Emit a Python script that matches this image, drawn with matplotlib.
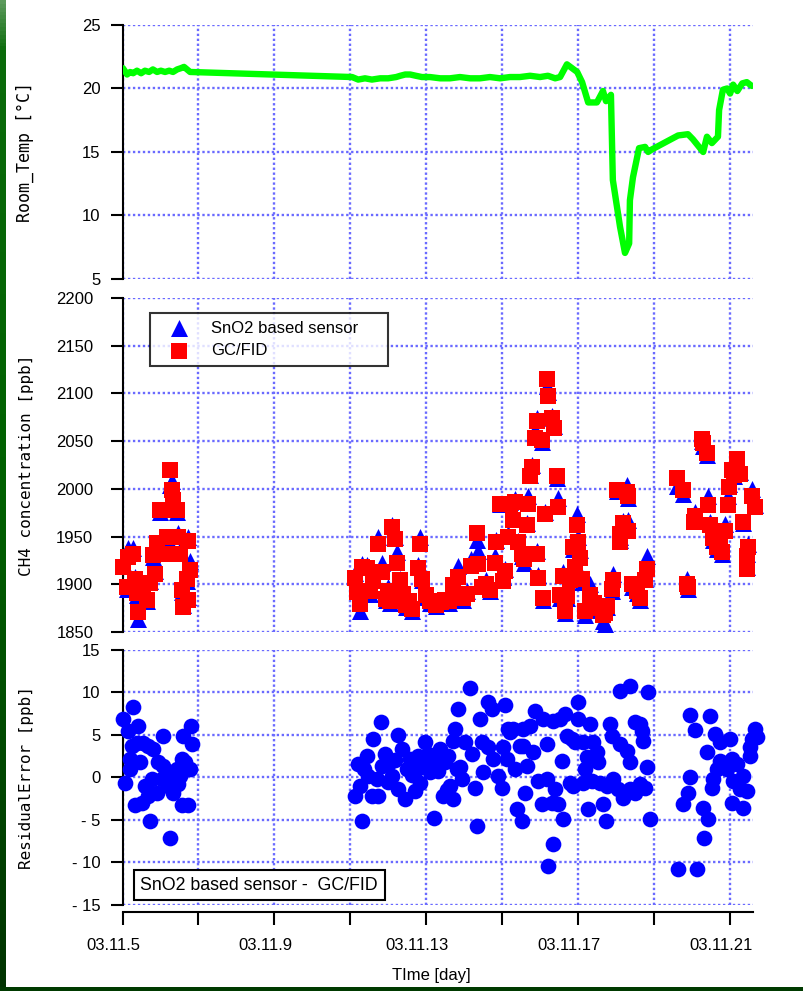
import numpy as np
import matplotlib
matplotlib.use("Agg")
import matplotlib.pyplot as plt
from matplotlib import font_manager
from matplotlib.colors import LinearSegmentedColormap
from matplotlib.patches import Rectangle
from matplotlib.transforms import ScaledTranslation

# room temperature log (day of Nov 2003, deg C)
temp_day = [5.01, 5.12, 5.20, 5.28, 5.38, 5.49, 5.59, 5.70, 5.80, 5.91, 6.01, 6.12, 6.23, 6.33,
            6.44, 6.54, 6.62, 6.70, 6.78,
            11.05, 11.21, 11.39, 11.57, 11.79, 12.00, 12.21, 12.32, 12.45, 12.58, 12.73, 12.89,
            13.10, 13.37, 13.63, 13.89, 14.16, 14.42, 14.68, 14.95, 15.21, 15.47, 15.74, 16.00,
            16.21, 16.40, 16.53, 16.71, 16.98, 17.11, 17.27, 17.50, 17.66, 17.74, 17.87, 17.92,
            18.11, 18.24, 18.35, 18.37, 18.45, 18.61, 18.77, 18.85, 18.95, 19.64, 19.90, 20.03,
            20.30, 20.40, 20.53, 20.69, 20.72, 20.82, 20.93, 21.01, 21.09, 21.20, 21.33, 21.45, 21.58]
temp_c = [21.6, 21.1, 21.3, 21.2, 21.4, 21.2, 21.4, 21.3, 21.5, 21.3, 21.4, 21.3, 21.4, 21.3,
          21.5, 21.6, 21.7, 21.5, 21.3,
          20.9, 20.7, 20.8, 20.7, 20.8, 20.8, 20.9, 21.0, 21.1, 21.1, 21.0, 20.9,
          20.9, 20.8, 20.8, 20.9, 20.8, 20.8, 20.9, 20.8, 20.9, 20.9, 21.0, 20.9,
          21.0, 20.8, 20.9, 21.9, 21.3, 20.5, 18.9, 18.9, 19.8, 19.0, 19.5, 12.8,
          9.1, 7.05, 7.8, 11.2, 13.0, 15.3, 15.4, 15.0, 15.2, 16.3, 16.4, 16.0,
          15.0, 16.2, 15.7, 16.2, 18.3, 19.9, 20.0, 19.6, 20.3, 19.8, 20.4, 20.5, 20.2]

# CH4 samples: GC/FID reference and SnO2 sensor reading (ppb)
ch4_day = [5.01, 5.12, 5.14, 5.28, 5.33, 5.38, 5.41, 5.54, 5.65, 5.72, 5.80, 5.86, 5.91, 5.99,
           6.12, 6.17, 6.20, 6.25, 6.30, 6.33, 6.44, 6.46, 6.52, 6.57, 6.59, 6.70, 6.73, 6.73, 6.78,
           11.13, 11.18, 11.26, 11.31, 11.45, 11.52, 11.60, 11.73, 11.84, 11.94, 12.00, 12.05,
           12.10, 12.18, 12.23, 12.31, 12.39, 12.47, 12.55, 12.63, 12.79, 12.84, 12.89, 13.00,
           13.10, 13.26, 13.39, 13.50, 13.60, 13.71, 13.84, 13.97, 14.08, 14.18, 14.34, 14.37,
           14.47, 14.58, 14.68, 14.81, 14.84, 14.95, 15.02, 15.08, 15.16, 15.21, 15.29, 15.34,
           15.42, 15.53, 15.58, 15.66, 15.69, 15.74, 15.79, 15.87, 15.92, 15.92, 15.95, 16.05,
           16.08, 16.13, 16.19, 16.21, 16.32, 16.37, 16.45, 16.48, 16.53, 16.61, 16.66, 16.71,
           16.79, 16.87, 16.92, 16.98, 17.00, 17.06, 17.11, 17.19, 17.32, 17.42, 17.50, 17.66,
           17.71, 17.77, 17.90, 17.92, 18.03, 18.11, 18.11, 18.19, 18.29, 18.32, 18.32, 18.43,
           18.56, 18.64, 18.77, 18.82,
           19.61, 19.77, 19.88, 19.90, 20.06, 20.09, 20.27, 20.30, 20.40, 20.43, 20.48, 20.56,
           20.67, 20.74, 20.80, 20.88, 20.96, 20.98, 21.06, 21.11, 21.19, 21.27, 21.35, 21.46,
           21.46, 21.48, 21.59, 21.67]
gc_ppb = [1918, 1897, 1929, 1932, 1905, 1891, 1871, 1891, 1884, 1901, 1931, 1911, 1943, 1978,
          1932, 1950, 1978, 2020, 1999, 1988, 1978, 1950, 1932, 1894, 1876, 1905, 1945, 1884, 1915,
          1907, 1892, 1879, 1918, 1917, 1893, 1903, 1942, 1913, 1885, 1893, 1882,
          1960, 1947, 1922, 1904, 1890, 1878, 1882, 1874, 1917, 1942, 1905, 1889,
          1882, 1878, 1881, 1883, 1882, 1899, 1908, 1886, 1890, 1919, 1954, 1921,
          1897, 1900, 1894, 1922, 1944, 1984, 1903, 1914, 1950, 1984, 1967, 1986,
          1944, 1932, 1926, 1962, 1984, 2013, 2023, 2053, 2071, 1932, 1907, 2051,
          1886, 1974, 2115, 2097, 2074, 2064, 2013, 1981, 1889, 1909, 1872, 1888,
          1904, 1939, 1918, 1962, 1944, 1928, 1905, 1872, 1889, 1880, 1875, 1868,
          1870, 1877, 1895, 1904, 1999, 1953, 1944, 1964, 1997, 1992, 1956, 1900,
          1893, 1886, 1904, 1916,
          2011, 1999, 1900, 1897, 1965, 1972, 2052, 2048, 2038, 1983, 1962, 1948,
          1939, 1945, 1934, 1956, 1983, 2002, 2020, 2015, 2031, 2016, 1965, 1930,
          1916, 1939, 1992, 1981]
sensor_ppb = [1922, 1895, 1938, 1938, 1908, 1889, 1864, 1893, 1882, 1903, 1929, 1914, 1941, 1976,
              1935, 1948, 1980, 2004, 2008, 1990, 1976, 1954, 1936, 1892, 1878, 1903, 1950, 1887, 1924,
              1912, 1897, 1872, 1921, 1920, 1890, 1906, 1950, 1922, 1884, 1897, 1880,
              1962, 1950, 1934, 1906, 1893, 1876, 1884, 1872, 1920, 1950, 1904, 1887,
              1880, 1877, 1880, 1882, 1880, 1901, 1919, 1884, 1893, 1926, 1946, 1935,
              1899, 1904, 1893, 1930, 1946, 1984, 1908, 1916, 1953, 1986, 1970, 1989,
              1945, 1930, 1922, 1964, 1993, 2015, 2025, 2062, 2074, 1935, 1910, 2049,
              1884, 1976, 2108, 2102, 2076, 2066, 2011, 1990, 1886, 1913, 1870, 1886,
              1906, 1937, 1922, 1974, 1950, 1936, 1902, 1868, 1900, 1878, 1873, 1862,
              1858, 1876, 1893, 1911, 1998, 1950, 1946, 1966, 2004, 1990, 1967, 1897,
              1891, 1884, 1906, 1930,
              2003, 1995, 1905, 1895, 1968, 1976, 2050, 2045, 2035, 1992, 1965, 1946,
              1937, 1948, 1932, 1963, 1992, 2005, 2022, 2013, 2030, 2018, 1964, 1932,
              1918, 1942, 2000, 1983]

# residual error, SnO2 sensor - GC/FID (ppb)
res_day = [5.01, 5.07, 5.14, 5.20, 5.20, 5.25, 5.28, 5.33, 5.38, 5.41, 5.46, 5.51, 5.54, 5.59,
           5.67, 5.67, 5.72, 5.78, 5.80, 5.91, 5.94, 6.04, 6.07, 6.07, 6.20, 6.25, 6.25, 6.33,
           6.38, 6.44, 6.46, 6.52, 6.57, 6.57, 6.59, 6.65, 6.73, 6.78, 6.81, 6.83,
           11.13, 11.21, 11.26, 11.31, 11.37, 11.45, 11.47, 11.58, 11.60, 11.71, 11.73, 11.81,
           11.84, 11.92, 12.00, 12.05, 12.10, 12.18, 12.26, 12.26, 12.37, 12.45, 12.50, 12.58,
           12.63, 12.71, 12.76, 12.79, 12.84, 12.92, 12.97, 13.05, 13.10, 13.21, 13.23, 13.31,
           13.37, 13.44, 13.50, 13.55, 13.58, 13.63, 13.71, 13.71, 13.76, 13.82, 13.84, 13.89,
           13.95, 14.03, 14.16, 14.21, 14.29, 14.34, 14.42, 14.47, 14.50, 14.63, 14.63, 14.73,
           14.76, 14.89, 15.00, 15.02, 15.08, 15.13, 15.16, 15.21, 15.29, 15.34, 15.40, 15.47,
           15.53, 15.55, 15.55, 15.61, 15.66, 15.74, 15.82, 15.87, 15.95, 16.05, 16.08, 16.19,
           16.19, 16.21, 16.32, 16.34, 16.34, 16.40, 16.48, 16.53, 16.58, 16.61, 16.66, 16.71,
           16.79, 16.84, 16.87, 16.92, 17.00, 17.00, 17.13, 17.13, 17.19, 17.24, 17.27, 17.32,
           17.37, 17.40, 17.50, 17.53, 17.58, 17.66, 17.74, 17.77, 17.85, 17.90, 17.92, 18.06,
           18.11, 18.11, 18.19, 18.29, 18.37, 18.37, 18.37, 18.50, 18.50, 18.64, 18.64, 18.69,
           18.72, 18.77, 18.82, 18.85, 18.90,
           19.64, 19.77, 19.90, 19.95, 19.95, 20.09, 20.14, 20.30, 20.32, 20.40, 20.43, 20.48,
           20.53, 20.56, 20.61, 20.67, 20.74, 20.74, 20.82, 20.93, 21.01, 21.06, 21.06, 21.09,
           21.19, 21.22, 21.27, 21.35, 21.35, 21.46, 21.54, 21.54, 21.59, 21.67, 21.72]
res_ppb = [6.9, -0.6, 5.5, 2.2, 1.0, 3.7, 8.3, -3.2, 4.1, 6.1, 1.8, -3.0, 4.1, -1.0,
           3.7, -2.2, -5.1, -0.2, 3.3, -1.8, 1.8, -0.2, 1.4, 4.9, -1.0, 0.6, -7.1, -1.8,
           -0.2, 1.0, -0.8, 0.2, 2.2, -3.2, 4.9, 1.8, -3.2, 1.0, 6.1, 3.9,
           -2.17, 1.58, -0.99, -5.12, 1.0, 2.56, 0.2, -2.17, 4.53, -0.2, -2.17, 6.58,
           1.38, 2.76, -0.5, 1.77, 0.2, 2.0, 5.0, -1.38, 3.35, -2.56, 0.99, 2.17,
           0.3, -1.58, 0.99, 2.56, -0.6, 1.77, 4.14, 2.8, 0.59, -4.73, 2.17, 0.8,
           3.35, -2.17, 1.77, -1.5, 2.56, -0.99, -2.56, 4.33, 5.71, 0.99, 8.08, 1.2,
           -0.2, 4.14, 10.5, 2.76, -1.18, -5.71, 6.9, 4.14, 0.59, 8.87, 3.55, 8.08,
           2.17, 0.2, -1.18, 3.55, 8.47, 2.17, 5.71, 5.32, 5.71, 0.99, -3.74, 3.74,
           -5.12, 5.71, 3.74, -1.77, 1.38, 6.1, 2.96, 7.88, -0.39, -3.15, 6.9, 3.94,
           -0.2, -10.4, -2.96, -7.88, 6.7, -1.38, -3.15, 6.9, 1.97, -4.93, 7.49, 4.93,
           -0.59, 4.53, -0.99, 4.14, 8.87, 6.9, 4.14, -0.59, 0.99, 2.36, -3.74, 6.3,
           -0.39, 4.14, 2.96, 1.77, -0.59, -3.15, -5.12, -0.99, 6.3, 4.93, -0.2, -1.38,
           3.94, 10.2, -2.36, 3.15, 1.77, -1.38, 10.8, 6.5, -1.77, 6.3, -0.79, 5.5,
           4.33, -1.18, 1.18, 10.05, -4.93,
           -10.8, -3.15, -1.77, 0.0, 7.37, 5.6, -10.8, -3.55, -7.1, 2.96, -4.93, 7.2,
           -1.18, -0.2, 5.12, 0.99, 4.14, 1.97, 1.58, 0.99, 4.53, 2.17, -2.96, -0.39,
           1.58, -0.59, -1.38, 0.2, -3.55, -1.58, 2.56, 3.55, 4.53, 5.71, 4.73]

day_ticks = [5, 7, 9, 11, 13, 15, 17, 19, 21]
day_labels = ["03.11.5", "", "03.11.9", "", "03.11.13", "", "03.11.17", "", "03.11.21"]
temp_ticks = [5, 10, 15, 20, 25]
ch4_ticks = [1850, 1900, 1950, 2000, 2050, 2100, 2150, 2200]
res_ticks = [-15, -10, -5, 0, 5, 10, 15]
res_labels = ["- 15", "- 10", "- 5", "0", "5", "10", "15"]

installed = {f.name for f in font_manager.fontManager.ttflist}
sans = "Liberation Sans"
narrow = "Liberation Sans Narrow" if "Liberation Sans Narrow" in installed else sans
mono = "DejaVu Sans Mono"
plt.rcParams["font.family"] = sans

grid_kw = dict(color="#6a6aff", linestyle=(0, (1, 1.1)), linewidth=1.7)
x_max = 21.614

fig = plt.figure(figsize=(8.04, 9.91), dpi=100)
fig.patch.set_facecolor("white")

left, width = 0.1524, 0.7842
ax1 = fig.add_axes([left, 0.7185, width, 0.2563])
ax2 = fig.add_axes([left, 0.3623, width, 0.3370])
ax3 = fig.add_axes([left, 0.0868, width, 0.2573])

for ax in (ax1, ax2, ax3):
    ax.set_xlim(5, x_max)
    ax.set_xticks(day_ticks)
    for s in ("top", "right", "bottom"):
        ax.spines[s].set_visible(False)
    ax.spines["left"].set_linewidth(1.5)
    ax.grid(True, **grid_kw)
    ax.set_axisbelow(True)
    ax.tick_params(axis="y", direction="out", length=9, width=1.5, labelsize=12, pad=7)
    ax.tick_params(axis="x", length=0, labelbottom=False)

# room temperature
ax1.plot(temp_day, temp_c, color="#00ff00", lw=4.6, solid_joinstyle="round",
         solid_capstyle="round", zorder=3)
ax1.set_ylim(5, 25)
ax1.set_yticks(temp_ticks)
ax1.set_ylabel("Room_Temp [°C]", family=mono, fontsize=12)

# CH4 concentration
ax2.scatter(ch4_day, sensor_ppb, marker="^", s=150, color="#0000ff", linewidths=0,
            label="SnO2 based sensor", zorder=3, clip_on=False)
ax2.scatter(ch4_day, gc_ppb, marker="s", s=125, color="#ff0000", linewidths=0,
            label="GC/FID", zorder=4, clip_on=False)
ax2.set_ylim(1850, 2200)
ax2.set_yticks(ch4_ticks)
ax2.tick_params(axis="y", pad=12)
ax2.set_ylabel("CH4 concentration [ppb]", family=mono, fontsize=11.5)
leg = ax2.legend(loc="upper left", bbox_to_anchor=(0.0436, 0.775, 0.3775, 0.18),
                 mode="expand", fontsize=12, frameon=True, fancybox=False,
                 edgecolor="black", borderpad=0.45, labelspacing=0.45,
                 handlelength=2.6, handletextpad=0.6, scatterpoints=1, borderaxespad=0)
leg.get_frame().set_linewidth(1.5)
leg.set_zorder(6)

# residual error
ax3.scatter(res_day, res_ppb, marker="o", s=128, color="#0000ff", linewidths=0,
            zorder=3, clip_on=False)
ax3.set_ylim(-15, 15)
ax3.set_yticks(res_ticks)
ax3.set_yticklabels(res_labels)
ax3.set_ylabel("ResidualError [ppb]", family=mono, fontsize=11.5)
ax3.spines["bottom"].set_visible(True)
ax3.spines["bottom"].set_position(("outward", 5))
ax3.spines["bottom"].set_linewidth(1.5)
ax3.tick_params(axis="x", direction="out", length=9, width=1.5, labelbottom=True,
                labelsize=12, pad=10)
ax3.set_xticklabels(day_labels, family=narrow)
shift = ScaledTranslation(-9 / 100, 0, fig.dpi_scale_trans)
for lbl in ax3.get_xticklabels():
    lbl.set_transform(lbl.get_transform() + shift)
ax3.text(0.0285, 0.078, "SnO2 based sensor -  GC/FID", transform=ax3.transAxes,
         fontsize=12.8, va="center", ha="left", zorder=6,
         bbox=dict(boxstyle="square,pad=0.38", fc="white", ec="black", lw=1.5))

for ax in (ax1, ax2, ax3):
    ax.yaxis.set_label_coords(-0.1404, 0.5)

fig.text(0.537, 0.0161, "TIme [day]", family=narrow, fontsize=12, ha="center", va="center")

# dark green frame on the left and bottom edges
frame_cmap = LinearSegmentedColormap.from_list(
    "frame", [(0.0, "#5c9a5c"), (0.05, "#0b6b0b"), (0.5, "#006000"), (1.0, "#003300")])
side = fig.add_axes([0, 0, 6 / 804, 1])
side.imshow(np.linspace(0, 1, 256).reshape(-1, 1), aspect="auto", cmap=frame_cmap)
side.axis("off")
fig.add_artist(Rectangle((0, 0), 1, 4 / 991, transform=fig.transFigure,
                         color="#003a00", lw=0))

fig.savefig("out.png", dpi=100, facecolor="white")
